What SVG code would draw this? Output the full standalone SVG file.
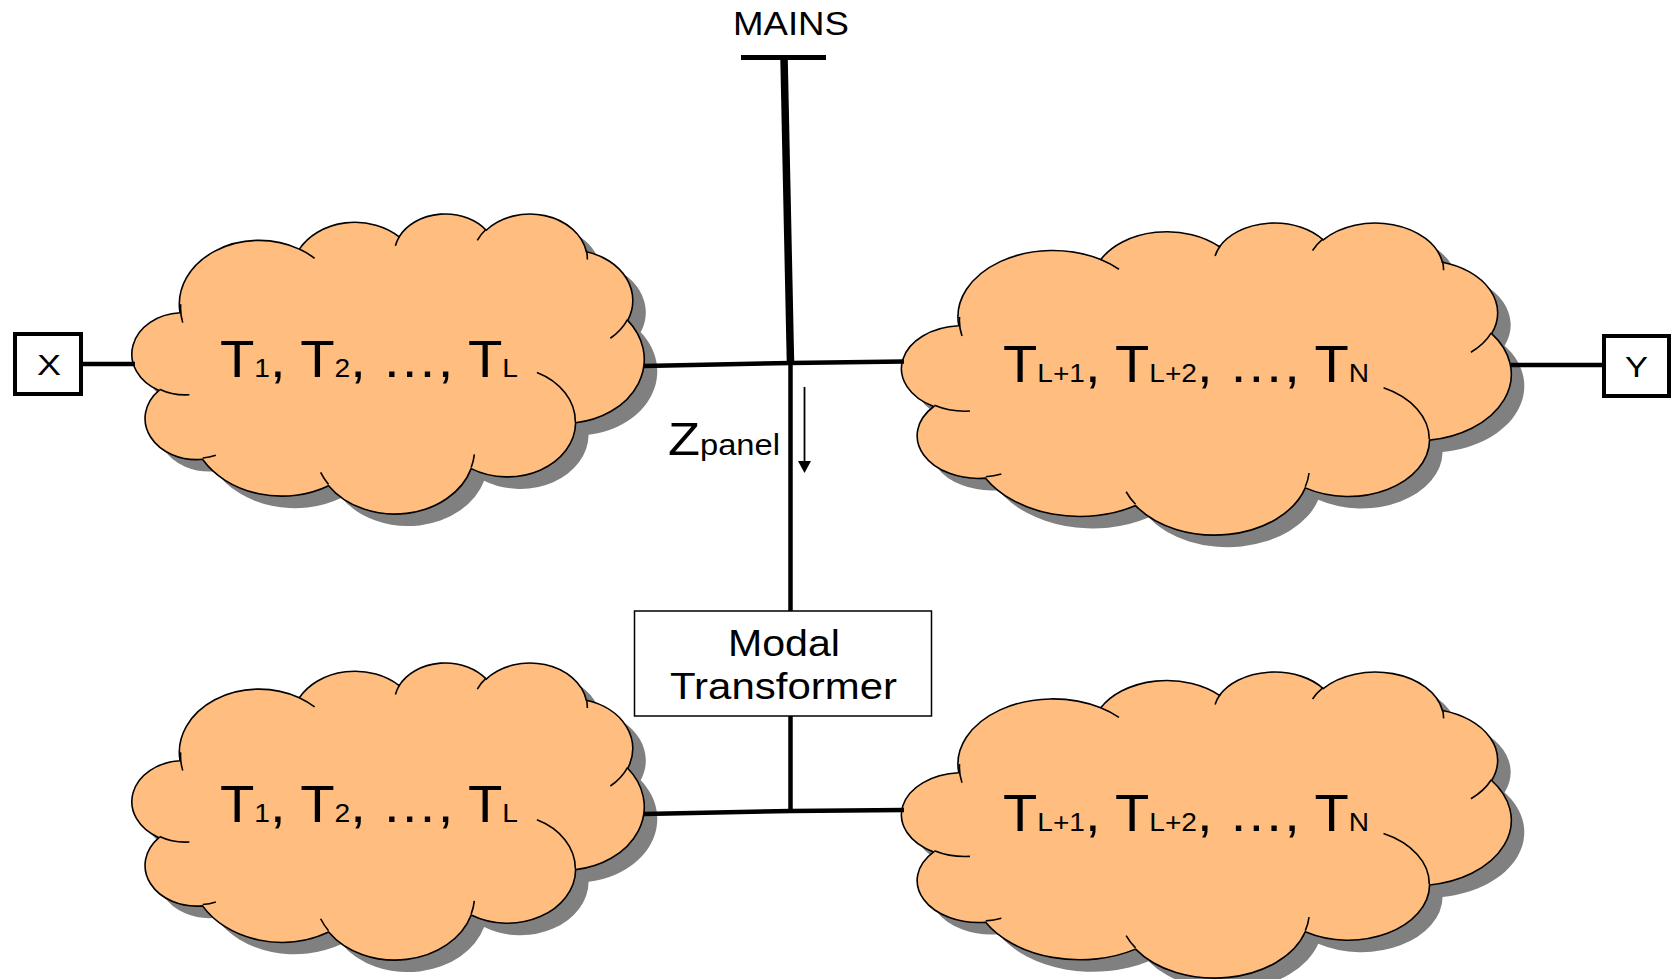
<svg xmlns="http://www.w3.org/2000/svg" xmlns:xlink="http://www.w3.org/1999/xlink" width="1675" height="979" viewBox="0 0 1675 979">
<style>
.txt{font-family:"Liberation Sans",Arial,sans-serif;fill:#000}
.body{fill:#FFBD80;stroke:#000}
.shadow{fill:#808080;stroke:none}
.tick{fill:none;stroke:#000}
.wire{stroke:#000;fill:none;stroke-linecap:butt}
</style>
<defs>
<path id="cloudBody" vector-effect="non-scaling-stroke" stroke-width="1.6" d="M3900,14370 A6753,9190 0 0 1 14005,5203 A5333,7267 0 0 1 22457,3431 A4365,5945 0 0 1 29834,2480 A4857,6595 0 0 1 38320,5575 A5333,7273 0 0 1 41820,15459 A6775,9220 0 0 1 37405,30202 A5785,7867 0 0 1 28558,36812 A6752,9215 0 0 1 16483,39265 A7720,10543 0 0 1 5806,35470 A4360,5918 0 0 1 2114,25548 A4345,5945 0 0 1 3900,14370 Z"/>
<path id="cloudTicks" vector-effect="non-scaling-stroke" stroke-width="1.6" d="M4693,26177 A4345,5945 0 0 1 2160,25380 M6928,34899 A4360,5918 0 0 1 5820,35280 M16478,39090 A6752,9215 0 0 1 15809,37348 M28827,34751 A6752,9215 0 0 1 28560,36660 M34129,22954 A5785,7867 0 0 1 37381,30090 M41798,15354 A5333,7273 0 0 1 40349,18031 M38324,5426 A4857,6595 0 0 1 38400,6690 M29078,3952 A4857,6595 0 0 1 29820,2340 M22141,4720 A4365,5945 0 0 1 22500,3331 M14000,5192 A6753,9190 0 0 1 15300,6541 M4127,15789 A6753,9190 0 0 1 3954,13150"/>
</defs>
<rect width="1675" height="979" fill="#fff"/>

<g id="cloud-top-left">
<use xlink:href="#cloudBody" class="shadow" transform="translate(147,225) scale(0.011806,0.0069444)"/>
<g transform="translate(134,213) scale(0.011806,0.0069444)">
<use xlink:href="#cloudBody" class="body"/>
<use xlink:href="#cloudTicks" class="tick"/>
</g>
<text class="txt" x="220" y="377" font-size="52" textLength="298" lengthAdjust="spacingAndGlyphs">T<tspan font-size="26">1</tspan>, T<tspan font-size="26">2</tspan>, …, T<tspan font-size="26">L</tspan></text>
</g>

<g id="cloud-top-right">
<use xlink:href="#cloudBody" class="shadow" transform="translate(917,234) scale(0.014051,0.0072222)"/>
<g transform="translate(904,222) scale(0.014051,0.0072222)">
<use xlink:href="#cloudBody" class="body"/>
<use xlink:href="#cloudTicks" class="tick"/>
</g>
<text class="txt" x="1003" y="382" font-size="52" textLength="366" lengthAdjust="spacingAndGlyphs">T<tspan font-size="26">L+1</tspan>, T<tspan font-size="26">L+2</tspan>, …, T<tspan font-size="26">N</tspan></text>
</g>

<g id="cloud-bottom-left">
<use xlink:href="#cloudBody" class="shadow" transform="translate(147,674) scale(0.011806,0.006875)"/>
<g transform="translate(134,662) scale(0.011806,0.006875)">
<use xlink:href="#cloudBody" class="body"/>
<use xlink:href="#cloudTicks" class="tick"/>
</g>
<text class="txt" x="220" y="822" font-size="52" textLength="298" lengthAdjust="spacingAndGlyphs">T<tspan font-size="26">1</tspan>, T<tspan font-size="26">2</tspan>, …, T<tspan font-size="26">L</tspan></text>
</g>

<g id="cloud-bottom-right">
<use xlink:href="#cloudBody" class="shadow" transform="translate(917,683) scale(0.014051,0.0070833)"/>
<g transform="translate(904,671) scale(0.014051,0.0070833)">
<use xlink:href="#cloudBody" class="body"/>
<use xlink:href="#cloudTicks" class="tick"/>
</g>
<text class="txt" x="1003" y="831" font-size="52" textLength="366" lengthAdjust="spacingAndGlyphs">T<tspan font-size="26">L+1</tspan>, T<tspan font-size="26">L+2</tspan>, …, T<tspan font-size="26">N</tspan></text>
</g>

<g id="node-X">
<rect x="15" y="334" width="66" height="60" fill="#fff" stroke="#000" stroke-width="4"/>
<text class="txt" x="37" y="375" font-size="30" textLength="24" lengthAdjust="spacingAndGlyphs">X</text>
</g>

<g id="node-Y">
<rect x="1604" y="336" width="65" height="60" fill="#fff" stroke="#000" stroke-width="4"/>
<text class="txt" x="1625" y="377" font-size="30" textLength="23" lengthAdjust="spacingAndGlyphs">Y</text>
</g>

<g id="node-mains">
<text class="txt" x="733" y="35" font-size="32.5" textLength="116" lengthAdjust="spacingAndGlyphs">MAINS</text>
</g>

<g id="node-modal">
<rect x="634.5" y="611" width="297" height="105" fill="#fff" stroke="#000" stroke-width="1.5"/>
<text class="txt" x="728" y="656" font-size="37.5" textLength="112" lengthAdjust="spacingAndGlyphs">Modal</text>
<text class="txt" x="670" y="699" font-size="37.5" textLength="227" lengthAdjust="spacingAndGlyphs">Transformer</text>
</g>

<g id="connectors">
<line class="wire" x1="741" y1="57.5" x2="826" y2="57.5" stroke-width="5"/>
<line class="wire" x1="784" y1="57" x2="790.5" y2="364" stroke-width="7.5"/>
<polyline class="wire" points="644,366 790.5,363 904,361.5" stroke-width="4.5"/>
<line class="wire" x1="790.5" y1="362" x2="790.5" y2="611" stroke-width="4.5"/>
<line class="wire" x1="790.5" y1="716" x2="790.5" y2="813" stroke-width="4.5"/>
<polyline class="wire" points="644,814 790.5,811 904,810" stroke-width="4.5"/>
<line class="wire" x1="81" y1="364" x2="135" y2="364" stroke-width="4.5"/>
<line class="wire" x1="1511" y1="365" x2="1604" y2="365" stroke-width="4.5"/>
<line class="wire" x1="804.5" y1="387" x2="804.5" y2="463" stroke-width="1.8"/>
<polygon points="798,461 811,461 804.5,473" fill="#000"/>
</g>

<g id="label-zpanel">
<text class="txt" x="668" y="455" font-size="46.5" textLength="112" lengthAdjust="spacingAndGlyphs">Z<tspan font-size="29">panel</tspan></text>
</g>
</svg>
